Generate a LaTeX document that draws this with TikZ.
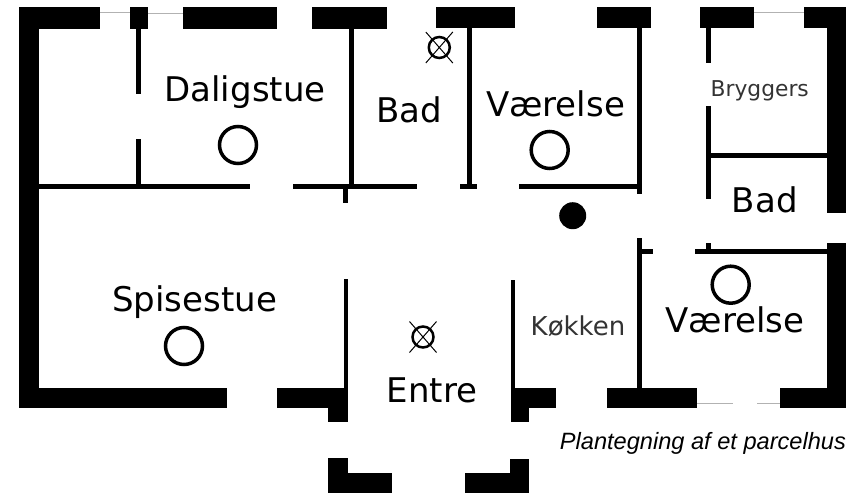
\documentclass[tikz,border=0pt]{standalone}
\usepackage{fontspec}
\setmainfont{DejaVu Sans}
\newfontfamily\captionfont{Liberation Sans}
\usetikzlibrary{shapes.misc}

\tikzset{
    wall/.style={fill=black},
    partition/.style={draw=black,line width=5pt},
    window/.style={draw=black!30,line width=1pt},
    room/.style={anchor=base,inner sep=0pt,font=\fontsize{34}{34}\selectfont},
    smallroom/.style={anchor=base,inner sep=0pt,text=black!80},
    outlet/.style={circle,draw=black,line width=3.5pt,minimum size=37pt,inner sep=0pt},
    heater/.style={circle,fill=black,minimum size=27pt,inner sep=0pt},
    lamp/.style={circle,draw=black,line width=2.5pt,minimum size=21pt,inner sep=0pt},
    lampcross/.style={cross out,draw=black,line width=1pt,minimum width=26pt,minimum height=30pt,inner sep=0pt}
}

\begin{document}
\begin{tikzpicture}[x=1pt,y=-1pt]
    \useasboundingbox (0,0) rectangle (846,493);

    % outer walls
    \fill[wall] (19,7) rectangle (100,29);
    \fill[wall] (130,7) rectangle (148,29);
    \fill[wall] (183,7) rectangle (277,29);
    \fill[wall] (312,7) rectangle (387,29);
    \fill[wall] (436,7) rectangle (515,28);
    \fill[wall] (597,7) rectangle (651,28);
    \fill[wall] (700,7) rectangle (754,28);
    \fill[wall] (804,7) rectangle (846,28);
    \fill[wall] (19,7) rectangle (39,408);
    \fill[wall] (827,7) rectangle (846,213);
    \fill[wall] (827,243) rectangle (846,408);
    \fill[wall] (19,388) rectangle (227,408);
    \fill[wall] (277,388) rectangle (348,408);
    \fill[wall] (328,388) rectangle (348,422);
    \fill[wall] (511,388) rectangle (556,408);
    \fill[wall] (511,388) rectangle (529,422);
    \fill[wall] (607,388) rectangle (697,408);
    \fill[wall] (780,388) rectangle (846,408);

    % porch
    \fill[wall] (328,458) rectangle (348,493);
    \fill[wall] (328,473) rectangle (392,493);
    \fill[wall] (510,459) rectangle (529,493);
    \fill[wall] (465,473) rectangle (529,493);

    % windows
    \draw[window] (100,12) -- (130,12);
    \draw[window] (148,13) -- (183,13);
    \draw[window] (754,12) -- (804,12);
    \draw[window] (697,403) -- (733,403);
    \draw[window] (757,403) -- (780,403);

    % inner walls
    \draw[partition] (138,29) -- (138,94);
    \draw[partition] (138,139) -- (138,186);
    \draw[partition] (39,186) -- (250,186);
    \draw[partition] (293,186) -- (417,186);
    \draw[partition] (351,29) -- (351,186);
    \draw[partition] (345,186) -- (345,203);
    \draw[partition] (469,28) -- (469,186);
    \draw[partition] (460,186) -- (477,186);
    \draw[partition] (519,186) -- (639,186);
    \draw[partition] (639.5,28) -- (639.5,194);
    \draw[partition] (708,28) -- (708,63);
    \draw[partition] (708,106) -- (708,199);
    \draw[partition] (708,155) -- (827,155);
    \draw[partition] (639.5,238) -- (639.5,388);
    \draw[partition] (639.5,251) -- (653,251);
    \draw[partition] (695,251) -- (827,251);
    \draw[partition] (708,243) -- (708,251);
    \draw[partition,line width=4pt] (345.5,279) -- (345.5,388);
    \draw[partition,line width=4pt] (512.5,280) -- (512.5,388);

    % room names
    \node[room] (dagligstue) at (245,101) {Daligstue};
    \node[room] (badvest) at (409.5,122.7) {Bad};
    \node[room] (vaerelsenord) at (555.5,116.7) {Værelse};
    \node[smallroom,font=\fontsize{21.8}{22}\selectfont] (bryggers) at (759.7,96) {Bryggers};
    \node[room] (badoest) at (764.7,212.7) {Bad};
    \node[room] (spisestue) at (194.6,311) {Spisestue};
    \node[room] (entre) at (432,402) {Entre};
    \node[smallroom,font=\fontsize{26}{26}\selectfont] (koekken) at (578,335) {Køkken};
    \node[room] (vaerelsesyd) at (735,332) {Værelse};

    % symbols
    \node[outlet] (outlet1) at (238,145) {};
    \node[outlet] (outlet2) at (549.7,150) {};
    \node[outlet] (outlet3) at (184,346) {};
    \node[outlet] (outlet4) at (730.7,284.7) {};
    \node[heater] (heater1) at (572.7,215.7) {};
    \node[lamp] (lamp1) at (439.3,47.5) {};
    \node[lampcross] (cross1) at (lamp1) {};
    \node[lamp] (lamp2) at (423,337) {};
    \node[lampcross] (cross2) at (lamp2) {};

    \node[anchor=base west,inner sep=0pt,font=\captionfont\itshape\fontsize{23.6}{24}\selectfont] (caption) at (559.7,449.7) {Plantegning af et parcelhus};
\end{tikzpicture}
\end{document}
